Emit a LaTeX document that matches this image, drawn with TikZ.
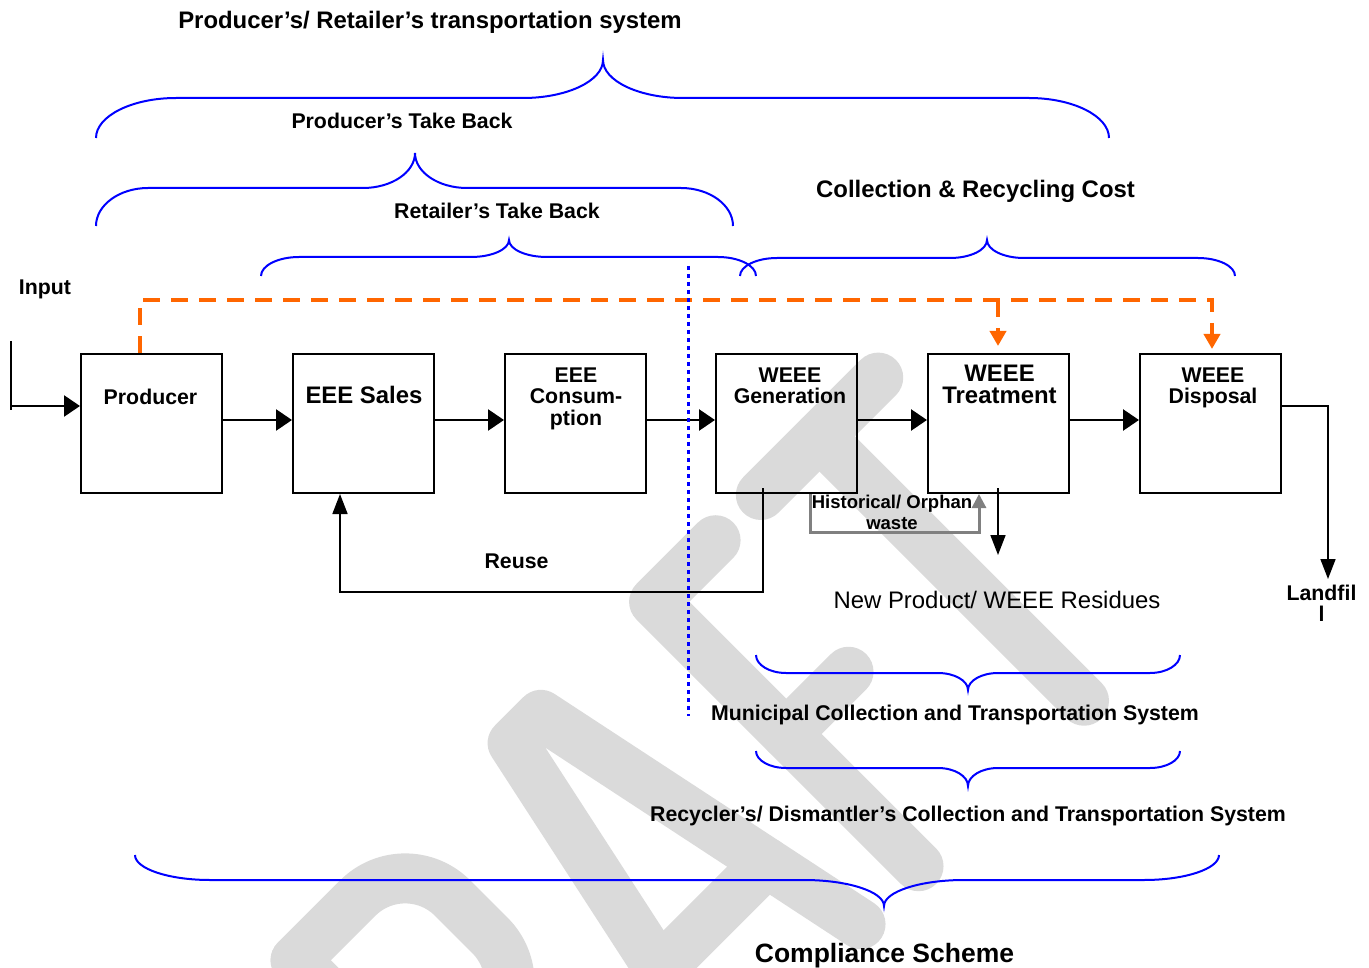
\documentclass[tikz,border=0pt]{standalone}
\usepackage{fontspec}
\setmainfont{Liberation Sans}
\usetikzlibrary{arrows.meta}

\definecolor{braceblue}{RGB}{0,0,255}
\definecolor{costorange}{RGB}{255,102,0}
\definecolor{histgray}{RGB}{128,128,128}
\definecolor{wmgray}{RGB}{218,218,218}

% curly brace: x-left, x-right, x-cusp, y-ends, y-straight, y-cusp, end radius, cusp radius
\newcommand{\wbrace}[8]{%
  \draw[bracestyle] (#1,#4) .. controls (#1,{#4+0.55*(#5-#4)}) and ({#1+0.45*#7},#5) .. ({#1+#7},#5)
    -- ({#3-#8},#5) .. controls ({#3-0.45*#8},#5) and (#3,{#6+0.55*(#5-#6)}) .. (#3,#6)
    .. controls (#3,{#6+0.55*(#5-#6)}) and ({#3+0.45*#8},#5) .. ({#3+#8},#5)
    -- ({#2-#7},#5) .. controls ({#2-0.45*#7},#5) and (#2,{#4+0.55*(#5-#4)}) .. (#2,#4);}

\tikzset{
  stagebox/.style={draw, line width=2pt, minimum width=141pt, minimum height=139pt, inner sep=0pt},
  lbl/.style={font=\bfseries\fontsize{21.3}{21.5}\selectfont, inner sep=0pt, align=center, anchor=base},
  lblbig/.style={font=\bfseries\fontsize{23.9}{22}\selectfont, inner sep=0pt, align=center, anchor=base},
  lblsmall/.style={font=\bfseries\fontsize{18.5}{21}\selectfont, inner sep=0pt, align=center, anchor=base},
  mainarrow/.style={line width=2.6pt, -{Triangle[length=16pt,width=21pt]}},
  thinarrow/.style={line width=1.7pt, -{Triangle[length=20pt,width=15pt]}},
  histarrow/.style={draw=histgray, line width=3pt, -{Triangle[length=14pt,width=14pt]}},
  costline/.style={draw=costorange, line width=4pt, dash pattern=on 17pt off 11pt},
  costarrow/.style={costline, -{Triangle[length=15pt,width=16pt]}},
  bracestyle/.style={draw=braceblue, line width=2pt},
  boundary/.style={draw=braceblue, line width=3.5pt, dash pattern=on 4pt off 4pt},
  wmstroke/.style={draw=wmgray, line width=50pt, line cap=round, line join=round}
}

\begin{document}
\begin{tikzpicture}[x=1pt, y=-1pt]
\useasboundingbox (0,0) rectangle (1369,968);

% background watermark lettering
\begin{scope}
  \clip (0,0) rectangle (1369,968);
  \begin{scope}[x={(0.7071pt,0.7071pt)}, y={(-0.7071pt,0.7071pt)}]
    % R
    \draw[wmstroke] (-470,-888) -- (-470,-1262);
    \draw[wmstroke] (-470,-888) -- (-382,-888) arc[start angle=90, end angle=0, radius=67]
      -- (-315,-1008) arc[start angle=0, end angle=-90, radius=67] -- (-470,-1075);
    \draw[wmstroke] (-400,-1075) -- (-330,-1262);
    % A
    \draw[wmstroke] (-243,-1262) -- (-163,-888) -- (-123,-888) -- (-45,-1262);
    \draw[wmstroke] (-219.5,-1152) -- (-68,-1152);
    % F
    \draw[wmstroke] (124,-888) -- (37,-888) -- (37,-1262);
    \draw[wmstroke] (37,-1075) -- (125,-1075);
    % T
    \draw[wmstroke] (188,-888) -- (354,-888);
    \draw[wmstroke] (271,-888) -- (271,-1262);
  \end{scope}
\end{scope}

% braces and their captions
\wbrace{96}{1109}{603}{138}{98}{60}{80}{80}
\wbrace{96}{733}{415}{226}{188}{153}{52}{52}
\wbrace{261}{756}{509}{276}{257}{240}{38}{38}
\wbrace{740}{1235}{987}{276}{258}{240}{37}{37}
\wbrace{756}{1180}{968}{655}{673}{690}{30}{30}
\wbrace{756}{1180}{968}{751}{768}{786}{30}{30}
\wbrace{135}{1219}{884}{855}{880}{906}{75}{80}

\node[lblbig] (ttransport) at (430,29) {Producer’s/ Retailer’s transportation system};
\node[lbl] (tprodtb) at (402,129) {Producer’s Take Back};
\node[lbl] (trettb) at (497,219) {Retailer’s Take Back};
\node[lblbig] (tcost) at (975.5,198) {Collection \& Recycling Cost};
\node[lbl] (tmunicipal) at (955,720) {Municipal Collection and Transportation System};
\node[lbl] (trecycler) at (968,821) {Recycler’s/ Dismantler’s Collection and Transportation System};
\node[font=\bfseries\fontsize{26.5}{28}\selectfont, inner sep=0pt, anchor=base] (tcompliance) at (884.5,962) {Compliance Scheme};

% life-cycle stages
\node[stagebox] (prod)  at (151.5,423.5) {};
\node[stagebox] (sales) at (363.5,423.5) {};
\node[stagebox] (cons)  at (575.5,423.5) {};
\node[stagebox] (gen)   at (786.5,423.5) {};
\node[stagebox] (treat) at (998.5,423.5) {};
\node[stagebox] (disp)  at (1210.5,423.5) {};

% (base of a multi-line label is the baseline of its last line)
\node[lbl] (prodT)  at (150.5,405) {Producer};
\node[lblbig] (salesT) at (364,404) {EEE Sales};
\node[lbl] (consT)  at (576,425) {EEE\\Consum-\\ption};
\node[lbl] (genT)   at (790,404) {WEEE\\Generation};
\node[lblbig] (treatT) at (999.5,404) {WEEE\\Treatment};
\node[lbl] (dispT)  at (1213,404) {WEEE\\Disposal};

% input
\node[lbl] (inputT) at (45,295) {Input};
\coordinate (inTop) at (11,341);
\coordinate (inBot) at (11,410);
\coordinate (inCorner) at (11,406);
\draw[line width=2pt] (inTop) -- (inBot);
\draw[mainarrow] (inCorner) -- ([yshift=17.5pt]prod.west);

% main flow
\draw[mainarrow] ([yshift=3.5pt]prod.east)  -- ([yshift=3.5pt]sales.west);
\draw[mainarrow] ([yshift=3.5pt]sales.east) -- ([yshift=3.5pt]cons.west);
\draw[mainarrow] ([yshift=3.5pt]cons.east)  -- ([yshift=3.5pt]gen.west);
\draw[mainarrow] ([yshift=3.5pt]gen.east)   -- ([yshift=3.5pt]treat.west);
\draw[mainarrow] ([yshift=3.5pt]treat.east) -- ([yshift=3.5pt]disp.west);

% reuse loop
\node[lbl] (reuseT) at (516.5,568.3) {Reuse};
\coordinate (reuseLow) at (763,592);
\draw[thinarrow] ([xshift=-23.5pt,yshift=6pt]gen.south) -- (reuseLow) -| ([xshift=-23.5pt]sales.south);

% historical / orphan waste
\node[lblsmall] (histT) at (892,529.3) {Historical/ Orphan\\waste};
\coordinate (histLow) at (810,532);
\draw[histarrow] ([xshift=23.5pt]gen.south) -- (histLow) -| ([xshift=-19.5pt]treat.south);

% treatment output
\node[font=\fontsize{23.9}{26}\selectfont, inner sep=0pt, anchor=base] (residT) at (997,608.3) {New Product/ WEEE Residues};
\coordinate (residEnd) at (998,555);
\draw[thinarrow] ([xshift=-0.5pt,yshift=6pt]treat.south) -- (residEnd);

% landfill
\node[lbl] (landT) at (1321.5,621.7) {Landfil\\l};
\coordinate (landEnd) at (1328,579);
\draw[thinarrow] ([yshift=17.5pt]disp.east) -| (landEnd);

% collection and recycling cost flow
\coordinate (costA) at (140,300);
\coordinate (costB) at (998,300);
\coordinate (costC) at (1212,300);
\draw[costarrow] ([xshift=-11.5pt]prod.north) -- (costA) -- (costC) -- ([xshift=1.5pt,yshift=4pt]disp.north);
\draw[costarrow] (costB) -- ([xshift=-0.5pt,yshift=7pt]treat.north);

% producer / municipal boundary
\coordinate (bndTop) at (688.5,266);
\coordinate (bndBot) at (688.5,716);
\draw[boundary] (bndTop) -- (bndBot);
\end{tikzpicture}
\end{document}
